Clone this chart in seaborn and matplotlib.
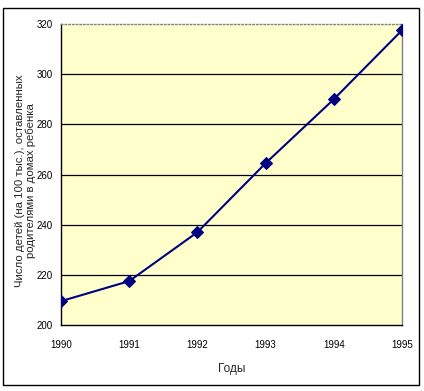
import numpy as np
import pandas as pd
import matplotlib
matplotlib.use("Agg")
import matplotlib.pyplot as plt
from matplotlib.patches import Rectangle
import seaborn as sb

years = [1990, 1991, 1992, 1993, 1994, 1995]
children = [209.5, 217.5, 237.0, 264.5, 290.0, 317.5]

df = pd.DataFrame({"year": years, "children": children})

sb.set_style("white")
plt.rcParams["font.family"] = ["Liberation Sans", "DejaVu Sans"]

fig = plt.figure(figsize=(4.24, 3.91), dpi=100)
ax = fig.add_axes([61 / 424, 1 - 325 / 391, 341 / 424, 301 / 391])
ax.set_facecolor("#FFFFCC")

# outer chart frame
fig.patches.append(Rectangle((3 / 424, 1 - 385 / 391), 416 / 424, 377 / 391,
                             transform=fig.transFigure, fill=False,
                             edgecolor="black", linewidth=1))

for yv in [220, 240, 260, 280, 300]:
    ax.axhline(yv, color="black", linewidth=0.9, zorder=1)

sb.lineplot(data=df, x="year", y="children", ax=ax, color="#000080",
            marker="D", markersize=6, markeredgecolor="#000080",
            linewidth=1.5, zorder=3)

ax.set_xlim(1990, 1995)
ax.set_ylim(200, 320)
ax.set_xticks(years)
ax.set_yticks(np.arange(200, 321, 20))
ax.tick_params(axis="both", labelsize=7, length=4, width=1, direction="out",
               color="black", labelcolor="black", pad=2)
ax.tick_params(axis="x", pad=7)

for s in ["left", "bottom"]:
    ax.spines[s].set_color("black")
    ax.spines[s].set_linewidth(1)
ax.spines["right"].set_color("#808080")
ax.spines["right"].set_linewidth(1)
ax.spines["top"].set_color("#808080")
ax.spines["top"].set_linestyle(":")
ax.spines["top"].set_linewidth(1)

ax.set_xlabel("Годы", fontsize=8.5)
ax.xaxis.set_label_coords(0.5, -0.125)
ax.set_ylabel("Число детей (на 100 тыс.), оставленных\nродителями в домах ребенка",
              fontsize=8.2, linespacing=1.1)
ax.yaxis.set_label_coords(-0.072, 0.48)

fig.savefig("out.png", dpi=100)
